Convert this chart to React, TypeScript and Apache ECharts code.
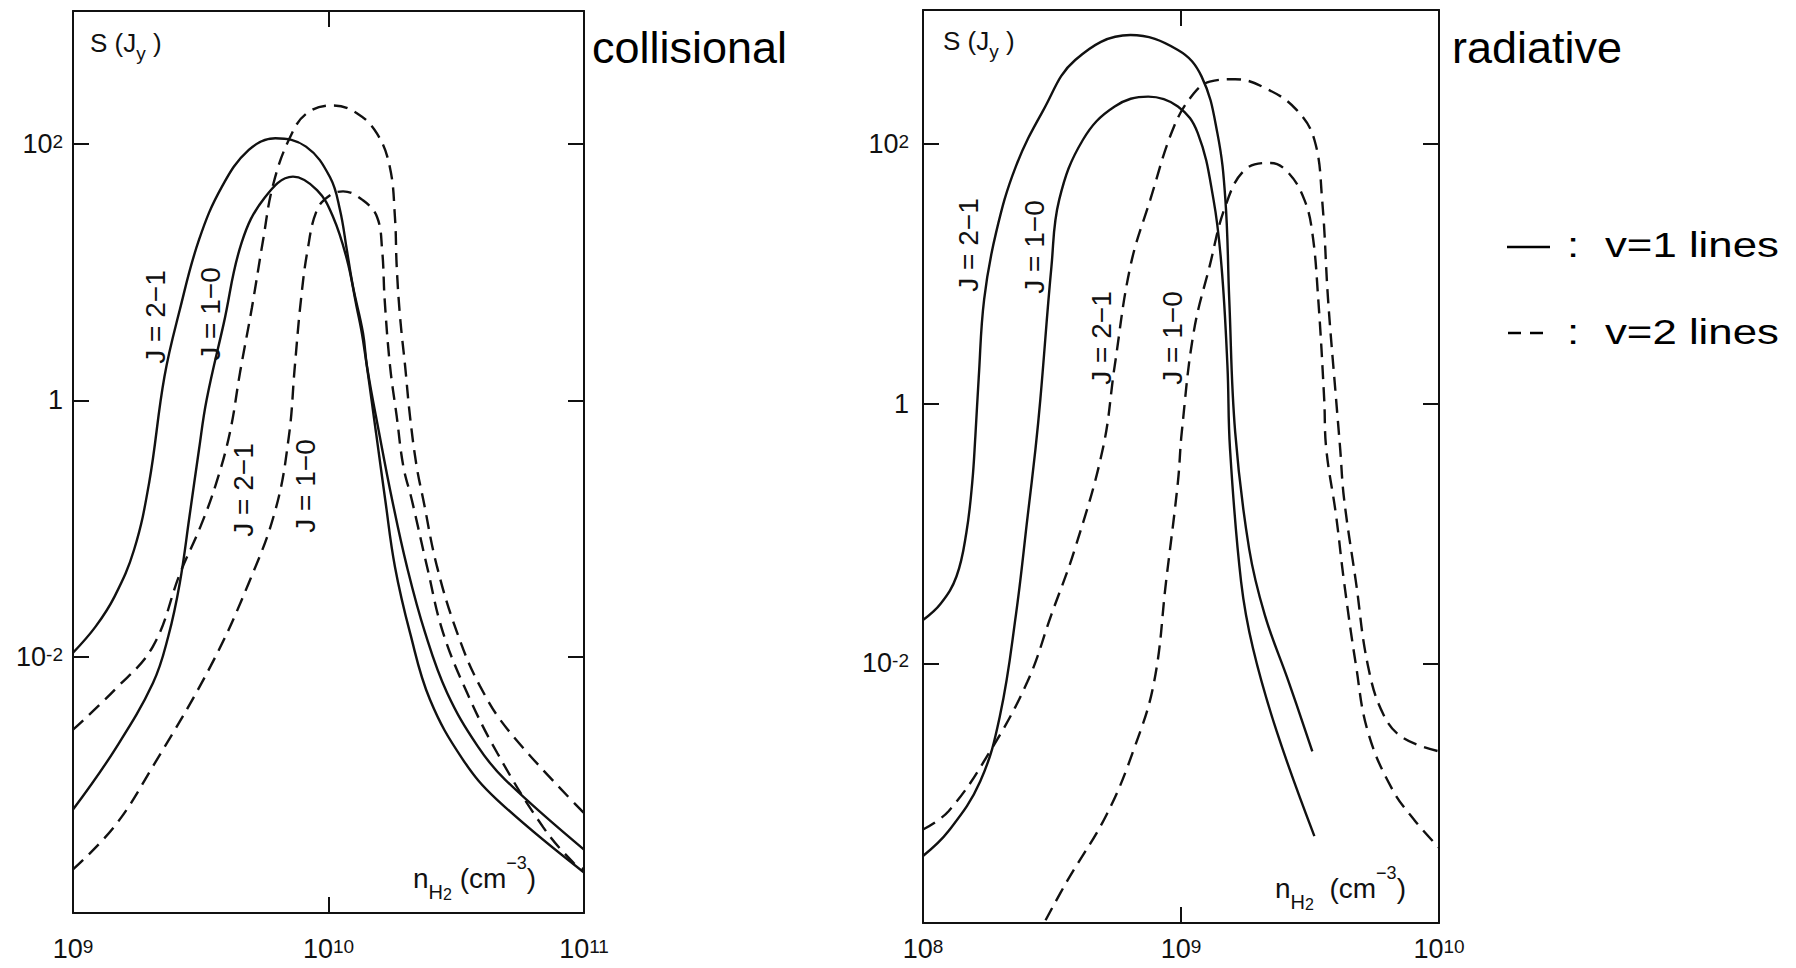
import React, { useEffect, useRef } from "react";
import * as echarts from "echarts";

// Values as [log10 n_H2 (cm^-3), log10 S (Jy)]
// ---- collisional panel ----
const collisionalV1J21: number[][] = [
  [9.0, -1.97], [9.089, -1.764], [9.163, -1.53], [9.239, -1.166], [9.298, -0.643],
  [9.358, 0.186], [9.418, 0.706], [9.493, 1.251], [9.583, 1.667], [9.688, 1.953],
  [9.792, 2.044], [9.912, 1.979], [10.006, 1.74], [10.045, 1.485], [10.072, 1.17],
  [10.096, 0.885], [10.135, 0.526], [10.151, 0.261], [10.198, -0.253], [10.249, -0.776],
  [10.307, -1.298], [10.378, -1.813], [10.464, -2.281], [10.585, -2.702], [10.691, -2.959],
  [11.0, -3.505],
];
const collisionalV1J10: number[][] = [
  [9.0, -3.193], [9.164, -2.725], [9.313, -2.205], [9.373, -1.841], [9.418, -1.425],
  [9.456, -0.905], [9.493, -0.386], [9.523, 0.004], [9.59, 0.6], [9.66, 1.23],
  [9.75, 1.58], [9.861, 1.745], [9.955, 1.64], [10.018, 1.43], [10.072, 1.1],
  [10.11, 0.73], [10.135, 0.47], [10.186, -0.253], [10.222, -0.776], [10.26, -1.298],
  [10.319, -1.813], [10.397, -2.335], [10.526, -2.803], [10.659, -3.115], [11.0, -3.684],
];
const collisionalV2J21: number[][] = [
  [9.0, -2.57], [9.164, -2.257], [9.313, -1.92], [9.419, -1.35], [9.5, -0.98],
  [9.56, -0.65], [9.614, -0.253], [9.654, 0.22], [9.7, 0.72], [9.744, 1.25],
  [9.783, 1.68], [9.849, 2.05], [9.916, 2.24], [10.018, 2.3], [10.111, 2.24],
  [10.19, 2.08], [10.24, 1.82], [10.26, 1.43], [10.267, 1.043], [10.28, 0.653],
  [10.3, 0.264], [10.319, -0.126], [10.345, -0.516], [10.371, -0.776], [10.425, -1.3],
  [10.503, -1.81], [10.593, -2.23], [10.71, -2.59], [11.0, -3.22],
];
const collisionalV2J10: number[][] = [
  [9.0, -3.66], [9.164, -3.32], [9.313, -2.855], [9.538, -2.076], [9.688, -1.425],
  [9.793, -0.85], [9.845, -0.28], [9.868, 0.26], [9.892, 0.78], [9.918, 1.17],
  [9.955, 1.485], [10.006, 1.6], [10.057, 1.63], [10.135, 1.56], [10.19, 1.43],
  [10.21, 1.17], [10.22, 0.78], [10.241, 0.264], [10.267, -0.126], [10.293, -0.516],
  [10.326, -0.776], [10.386, -1.3], [10.448, -1.81], [10.542, -2.28], [10.66, -2.75],
  [10.84, -3.33], [10.96, -3.61], [11.0, -3.66],
];

// ---- radiative panel ----
const radiativeV1J21: number[][] = [
  [8.0, -1.667], [8.069, -1.54], [8.13, -1.33], [8.168, -0.995], [8.191, -0.605],
  [8.203, -0.25], [8.216, 0.2], [8.237, 0.802], [8.283, 1.314], [8.36, 1.826],
  [8.467, 2.261], [8.59, 2.645], [8.804, 2.837], [8.988, 2.722], [9.08, 2.517],
  [9.141, 2.082], [9.172, 1.57], [9.187, 0.802], [9.21, -0.221], [9.264, -1.117],
  [9.325, -1.629], [9.417, -2.141], [9.509, -2.678],
];
const radiativeV1J10: number[][] = [
  [8.0, -3.484], [8.099, -3.292], [8.222, -2.908], [8.299, -2.397], [8.36, -1.629],
  [8.406, -0.861], [8.436, -0.349], [8.455, 0.035], [8.498, 1.058], [8.528, 1.57],
  [8.62, 2.031], [8.743, 2.287], [8.873, 2.363], [8.988, 2.287], [9.065, 2.082],
  [9.126, 1.57], [9.157, 1.058], [9.18, 0.29], [9.19, -0.349], [9.233, -1.373],
  [9.279, -1.885], [9.371, -2.525], [9.517, -3.331],
];
const radiativeV2J21: number[][] = [
  [8.0, -3.28], [8.099, -3.139], [8.252, -2.704], [8.405, -2.141], [8.497, -1.629],
  [8.589, -1.117], [8.697, -0.349], [8.743, 0.29], [8.804, 1.058], [8.881, 1.57],
  [8.973, 2.133], [9.05, 2.389], [9.111, 2.478], [9.21, 2.497], [9.34, 2.415],
  [9.448, 2.261], [9.517, 2.031], [9.547, 1.57], [9.57, 0.802], [9.601, 0.035],
  [9.617, -0.349], [9.632, -0.733], [9.678, -1.373], [9.724, -2.013], [9.785, -2.397],
  [9.862, -2.576], [10.0, -2.678],
];
const radiativeV2J10: number[][] = [
  [8.475, -3.979], [8.559, -3.676], [8.712, -3.164], [8.819, -2.653], [8.896, -2.141],
  [8.942, -1.373], [8.988, -0.605], [9.003, -0.221], [9.049, 0.547], [9.111, 1.058],
  [9.172, 1.519], [9.248, 1.8], [9.348, 1.852], [9.417, 1.775], [9.478, 1.57],
  [9.509, 1.314], [9.532, 0.802], [9.555, 0.035], [9.563, -0.349], [9.601, -0.861],
  [9.632, -1.373], [9.678, -2.013], [9.724, -2.525], [9.816, -2.96], [9.908, -3.216],
  [10.0, -3.42],
];

// axis extents (decade exponents) and labelled tick exponents
const collisionalXRange = [9, 11];
const radiativeXRange = [8, 10];
const collisionalYRange = [-4, 3.037];
const radiativeYRange = [-4, 3.03];
const yTickExponents = [-2, 0, 2];

const panelTitles = ["collisional", "radiative"];
const legendTexts = ["v=1 lines", "v=2 lines"];
const curveLabels = ["J = 2\u22121", "J = 1\u22120"];

const FONT = "'Liberation Sans', Arial, Helvetica, sans-serif";
const INK = "#111";

const toXY = (pts: number[][]) =>
  pts.map(([lx, ly]) => [Math.pow(10, lx), Math.pow(10, ly)]);

const tickRich = {
  b: { fontSize: 27, lineHeight: 24, verticalAlign: "middle", color: INK, fontFamily: FONT },
  sup: { fontSize: 19, lineHeight: 6, verticalAlign: "top", color: INK, fontFamily: FONT },
};

function expOf(v: number) {
  const l = Math.log10(v);
  const e = Math.round(l);
  return Math.abs(l - e) < 0.01 ? e : null;
}
function yLabel(v: number) {
  const e = expOf(v);
  if (e === null || !yTickExponents.includes(e)) return "";
  if (e === 0) return "{b|1}";
  return `{b|10}{sup|${e}}`;
}
function xLabel(v: number) {
  const e = expOf(v);
  if (e === null) return "";
  return `{b|10}{sup|${e}}`;
}

const lineStyleAxis = { color: INK, width: 2 };

function xAxisDef(gridIndex: number, range: number[], position: string, showLabel: boolean, margin: number) {
  return {
    type: "log",
    logBase: 10,
    gridIndex,
    position,
    min: Math.pow(10, range[0]),
    max: Math.pow(10, range[1]),
    interval: 1,
    axisLine: { show: true, onZero: false, lineStyle: lineStyleAxis },
    axisTick: { show: true, inside: true, length: 16, lineStyle: lineStyleAxis },
    axisLabel: { show: showLabel, formatter: xLabel, rich: tickRich, margin, color: INK },
    splitLine: { show: false },
    minorTick: { show: false },
  };
}
function yAxisDef(gridIndex: number, range: number[], position: string, showLabel: boolean, margin: number) {
  return {
    type: "log",
    logBase: 10,
    gridIndex,
    position,
    min: Math.pow(10, range[0]),
    max: Math.pow(10, range[1]),
    interval: 2,
    axisLine: { show: true, onZero: false, lineStyle: lineStyleAxis },
    axisTick: { show: true, inside: true, length: 16, lineStyle: lineStyleAxis },
    axisLabel: { show: showLabel, formatter: yLabel, rich: tickRich, margin, color: INK, showMaxLabel: false, showMinLabel: false },
    splitLine: { show: false },
    minorTick: { show: false },
  };
}

function lineSeries(name: string, data: number[][], xi: number, yi: number, dashed: boolean) {
  return {
    type: "line",
    name,
    data: toXY(data),
    xAxisIndex: xi,
    yAxisIndex: yi,
    symbol: "none",
    showSymbol: false,
    smooth: 0.4,
    clip: true,
    silent: true,
    lineStyle: { color: INK, width: 2.4, type: dashed ? [14, 8] : "solid" },
    emphasis: { disabled: true },
  };
}

function rotLabel(text: string, x: number, y: number) {
  return {
    type: "text",
    x,
    y,
    rotation: Math.PI / 2,
    silent: true,
    style: { text, fontSize: 28, fontFamily: FONT, fill: INK, align: "center", verticalAlign: "middle" },
  };
}

const titleRich = {
  b: { fontSize: 26, lineHeight: 40, verticalAlign: "middle", fontFamily: FONT, color: INK },
  sub: { fontSize: 19, lineHeight: 22, verticalAlign: "bottom", fontFamily: FONT, color: INK },
};
const nRich = {
  b: { fontSize: 28, lineHeight: 48, verticalAlign: "middle", fontFamily: FONT, color: INK },
  s1: { fontSize: 20, lineHeight: 30, verticalAlign: "bottom", fontFamily: FONT, color: INK },
  s2: { fontSize: 16, lineHeight: 18, verticalAlign: "bottom", fontFamily: FONT, color: INK },
  sup: { fontSize: 18, lineHeight: 30, verticalAlign: "top", fontFamily: FONT, color: INK },
};

function buildOption() {
  const graphic: any[] = [
    // curve labels, collisional
    rotLabel(curveLabels[0], 155, 317),
    rotLabel(curveLabels[1], 210, 314),
    rotLabel(curveLabels[0], 243, 490),
    rotLabel(curveLabels[1], 305, 486),
    // curve labels, radiative
    rotLabel(curveLabels[0], 968, 245),
    rotLabel(curveLabels[1], 1034, 247),
    rotLabel(curveLabels[0], 1101, 338),
    rotLabel(curveLabels[1], 1172, 338),
    // axis titles
    { type: "text", x: 90, y: 43, silent: true, style: { text: "{b|S (J}{sub|y}{b| )}", rich: titleRich, align: "left", verticalAlign: "middle", fill: INK } },
    { type: "text", x: 943, y: 41, silent: true, style: { text: "{b|S (J}{sub|y}{b| )}", rich: titleRich, align: "left", verticalAlign: "middle", fill: INK } },
    { type: "text", x: 413, y: 878, silent: true, style: { text: "{b|n}{s1|H}{s2|2}{b| (cm}{sup|\u22123}{b|)}", rich: nRich, align: "left", verticalAlign: "middle", fill: INK } },
    { type: "text", x: 1275, y: 888, silent: true, style: { text: "{b|n}{s1|H}{s2|2}{b|  (cm}{sup|\u22123}{b|)}", rich: nRich, align: "left", verticalAlign: "middle", fill: INK } },
    // panel titles
    { type: "text", x: 592, y: 47, silent: true, style: { text: panelTitles[0], fontSize: 45, fontFamily: FONT, fill: "#000", align: "left", verticalAlign: "middle" } },
    { type: "text", x: 1452, y: 47, silent: true, style: { text: panelTitles[1], fontSize: 45, fontFamily: FONT, fill: "#000", align: "left", verticalAlign: "middle" } },
    // legend
    { type: "line", silent: true, shape: { x1: 1507, y1: 247, x2: 1550, y2: 247 }, style: { stroke: "#000", lineWidth: 2.5 } },
    { type: "line", silent: true, shape: { x1: 1508, y1: 333, x2: 1521, y2: 333 }, style: { stroke: "#000", lineWidth: 2.5 } },
    { type: "line", silent: true, shape: { x1: 1530, y1: 333, x2: 1543, y2: 333 }, style: { stroke: "#000", lineWidth: 2.5 } },
    { type: "text", x: 1567, y: 245, scaleX: 1.25, silent: true, style: { text: ":", fontSize: 35, fontFamily: FONT, fill: "#000", align: "left", verticalAlign: "middle" } },
    { type: "text", x: 1567, y: 332, scaleX: 1.25, silent: true, style: { text: ":", fontSize: 35, fontFamily: FONT, fill: "#000", align: "left", verticalAlign: "middle" } },
    { type: "text", x: 1605, y: 245, scaleX: 1.25, silent: true, style: { text: legendTexts[0], fontSize: 35, fontFamily: FONT, fill: "#000", align: "left", verticalAlign: "middle" } },
    { type: "text", x: 1605, y: 332, scaleX: 1.25, silent: true, style: { text: legendTexts[1], fontSize: 35, fontFamily: FONT, fill: "#000", align: "left", verticalAlign: "middle" } },
  ];

  return {
    animation: false,
    backgroundColor: "#fff",
    textStyle: { fontFamily: FONT, color: INK },
    grid: [
      { left: 73, top: 11, width: 511, height: 902, outerBoundsMode: "none", containLabel: false },
      { left: 923, top: 10, width: 516, height: 913, outerBoundsMode: "none", containLabel: false },
    ],
    xAxis: [
      xAxisDef(0, collisionalXRange, "bottom", true, 24),
      xAxisDef(0, collisionalXRange, "top", false, 8),
      xAxisDef(1, radiativeXRange, "bottom", true, 14),
      xAxisDef(1, radiativeXRange, "top", false, 8),
    ],
    yAxis: [
      yAxisDef(0, collisionalYRange, "left", true, 10),
      yAxisDef(0, collisionalYRange, "right", false, 8),
      yAxisDef(1, radiativeYRange, "left", true, 14),
      yAxisDef(1, radiativeYRange, "right", false, 8),
    ],
    series: [
      lineSeries("collisional v=1 J=2-1", collisionalV1J21, 0, 0, false),
      lineSeries("collisional v=1 J=1-0", collisionalV1J10, 0, 0, false),
      lineSeries("collisional v=2 J=2-1", collisionalV2J21, 0, 0, true),
      lineSeries("collisional v=2 J=1-0", collisionalV2J10, 0, 0, true),
      lineSeries("radiative v=1 J=2-1", radiativeV1J21, 2, 2, false),
      lineSeries("radiative v=1 J=1-0", radiativeV1J10, 2, 2, false),
      lineSeries("radiative v=2 J=2-1", radiativeV2J21, 2, 2, true),
      lineSeries("radiative v=2 J=1-0", radiativeV2J10, 2, 2, true),
    ],
    graphic,
  };
}

export default function App() {
  const ref = useRef<HTMLDivElement>(null);
  useEffect(() => {
    if (!ref.current) return;
    const chart = echarts.init(ref.current, undefined, { renderer: "svg", width: 1796, height: 968 });
    chart.setOption(buildOption() as any);
    return () => chart.dispose();
  }, []);
  return (
    <div
      ref={ref}
      style={{ position: "absolute", left: 0, top: 0, width: 1796, height: 968, background: "#fff" }}
    />
  );
}
